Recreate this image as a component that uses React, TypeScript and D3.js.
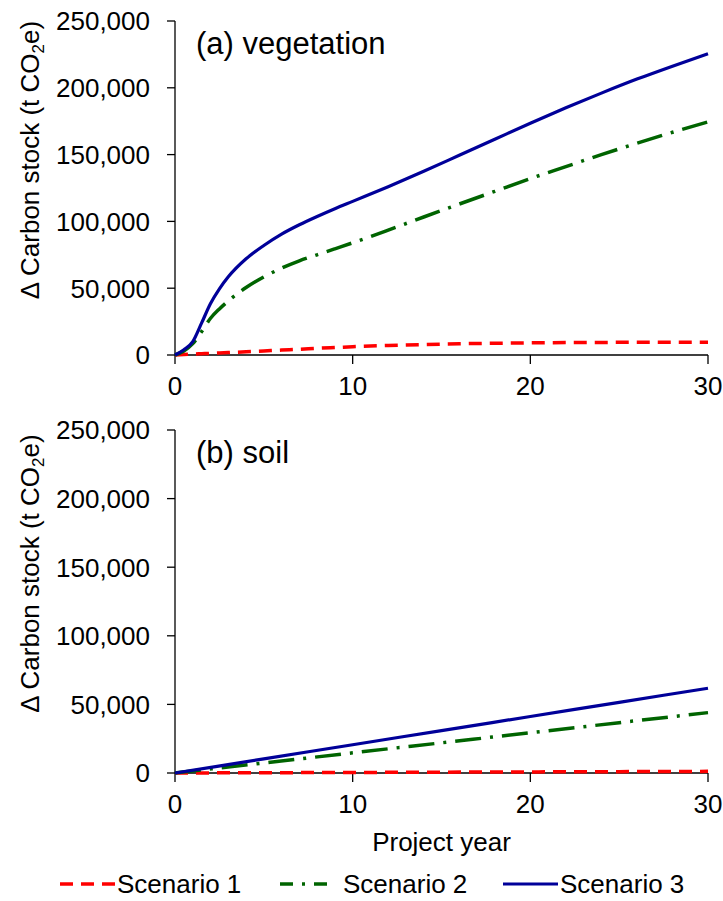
import React from "react";
import * as d3 from "d3";

const vegYears = [0, 0.5, 1, 1.5, 2, 2.5, 3, 4, 5, 6, 7, 8, 9, 10, 12, 14, 16, 18, 20, 22, 24, 26, 28, 30];
const vegS1 = [0, 300, 700, 950, 1200, 1500, 1800, 2400, 3000, 3700, 4300, 5000, 5600, 6200, 7100, 7800, 8400, 8800, 9100, 9300, 9400, 9500, 9500, 9500];
const vegS2 = [0, 3000, 8500, 17500, 27500, 34500, 40500, 50500, 58500, 65000, 70500, 75000, 79500, 84000, 93500, 103300, 113000, 122500, 132000, 141000, 150000, 158500, 166700, 174500];
const vegS3 = [0, 4000, 10000, 24000, 38500, 49500, 58500, 72000, 82000, 90500, 97500, 103700, 109500, 115000, 126000, 137500, 149500, 161500, 173500, 185000, 196000, 206500, 216200, 225500];

const soilYears = [0, 5, 10, 15, 20, 25, 30];
const soilS1 = [0, 200, 400, 600, 800, 1000, 1200];
const soilS2 = [0, 7300, 14700, 22000, 29300, 36700, 44000];
const soilS3 = [0, 10300, 20600, 30900, 41200, 51500, 61800];

const xTicks = [0, 10, 20, 30];
const yTicks = [0, 50000, 100000, 150000, 200000, 250000];
const seriesNames = ["Scenario 1", "Scenario 2", "Scenario 3"];
const panelLabels = ["(a) vegetation", "(b) soil"];

const FONT = "'Liberation Sans', Arial, sans-serif";
const styles = [
  { color: "#FF0000", dash: "13,8", width: 3.5 },
  { color: "#006400", dash: "26,9,3,9", width: 3.5 },
  { color: "#000099", dash: "", width: 3.2 },
];

const X0 = 175;
const X1 = 708;

function Panel({ years, series, top, bottom, label }: { years: number[]; series: number[][]; top: number; bottom: number; label: string }) {
  const x = d3.scaleLinear().domain([0, 30]).range([X0, X1]);
  const y = d3.scaleLinear().domain([0, 250000]).range([bottom, top]);
  const line = d3
    .line<number>()
    .x((_, i) => x(years[i]))
    .y((d) => y(d))
    .curve(d3.curveMonotoneX);
  const fmt = d3.format(",");
  const titleCenter = (top + bottom) / 2 - 28;
  return (
    <g>
      <line x1={X0} x2={X0} y1={top} y2={bottom} stroke="#000" strokeWidth={1.3} />
      <line x1={X0} x2={X1} y1={bottom} y2={bottom} stroke="#000" strokeWidth={1.3} />
      {yTicks.map((t) => (
        <g key={"y" + t}>
          <line x1={X0 - 8} x2={X0} y1={y(t)} y2={y(t)} stroke="#000" strokeWidth={1.3} />
          <text x={150} y={y(t) + 9.3} textAnchor="end" fontSize={26} fontFamily={FONT}>
            {fmt(t)}
          </text>
        </g>
      ))}
      {xTicks.map((t) => (
        <g key={"x" + t}>
          <line x1={x(t)} x2={x(t)} y1={bottom} y2={bottom + 9} stroke="#000" strokeWidth={1.3} />
          <text x={x(t)} y={bottom + 40} textAnchor="middle" fontSize={26} fontFamily={FONT}>
            {t}
          </text>
        </g>
      ))}
      {series.map((s, i) => (
        <path
          key={i}
          d={line(s) || ""}
          fill="none"
          stroke={styles[i].color}
          strokeWidth={styles[i].width}
          strokeDasharray={styles[i].dash || undefined}
        />
      ))}
      <text x={196} y={top + 33} fontSize={31} fontFamily={FONT}>
        {label}
      </text>
      <text
        transform={`translate(39,${titleCenter}) rotate(-90)`}
        textAnchor="middle"
        fontSize={26}
        fontFamily={FONT}
      >
        <tspan>Δ Carbon stock (t CO</tspan>
        <tspan fontSize={17} dy={5}>2</tspan>
        <tspan dy={-5}>e)</tspan>
      </text>
    </g>
  );
}

export default function App() {
  const legendX = [60, 280, 503];
  return (
    <svg
      width={723}
      height={901}
      style={{ position: "absolute", left: 0, top: 0, background: "#fff" }}
    >
      <rect width={723} height={901} fill="#fff" />
      <Panel years={vegYears} series={[vegS1, vegS2, vegS3]} top={21} bottom={355} label={panelLabels[0]} />
      <Panel years={soilYears} series={[soilS1, soilS2, soilS3]} top={430} bottom={773} label={panelLabels[1]} />
      <text x={(X0 + X1) / 2} y={851} textAnchor="middle" fontSize={26} fontFamily={FONT}>
        Project year
      </text>
      {seriesNames.map((n, i) => (
        <g key={n}>
          <line
            x1={legendX[i]}
            x2={legendX[i] + 55}
            y1={884}
            y2={884}
            stroke={styles[i].color}
            strokeWidth={styles[i].width}
            strokeDasharray={i === 0 ? "13,8" : i === 1 ? "13,9,3,9" : undefined}
          />
          <text x={legendX[i] + (i === 1 ? 63 : 57)} y={893} fontSize={26} fontFamily={FONT}>
            {n}
          </text>
        </g>
      ))}
    </svg>
  );
}
